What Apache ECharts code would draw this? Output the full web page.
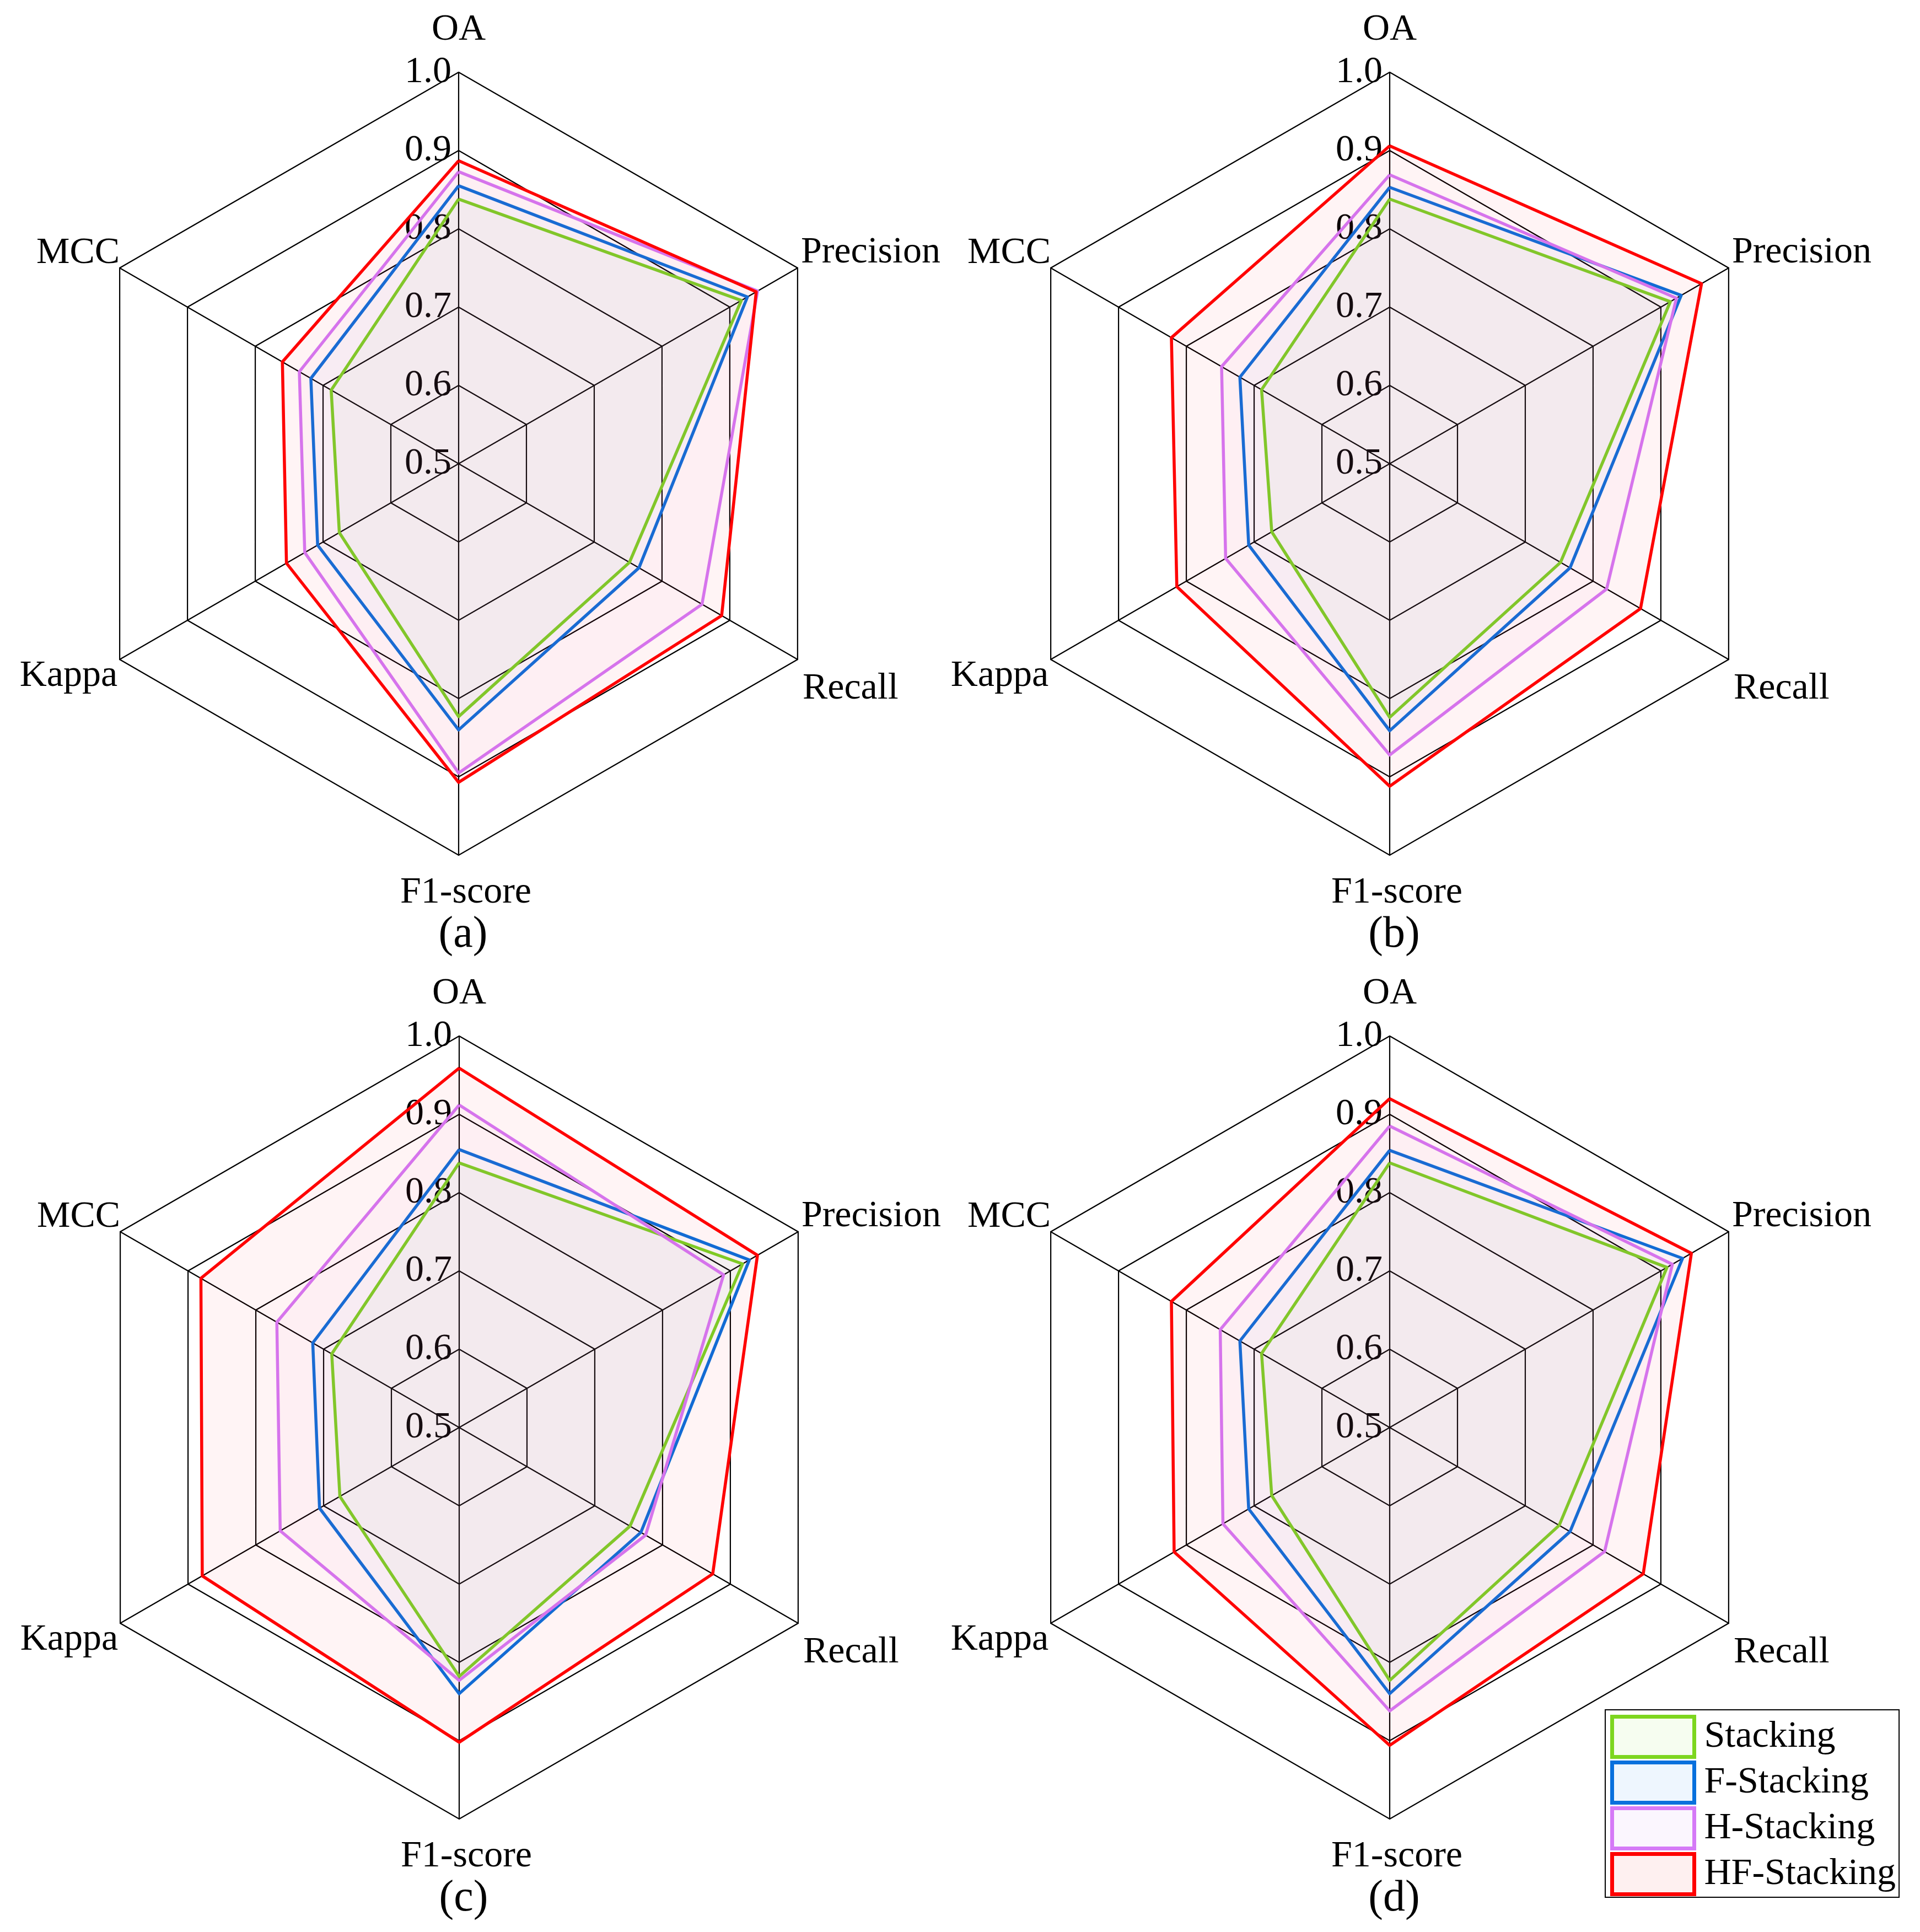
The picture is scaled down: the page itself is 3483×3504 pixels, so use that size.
<!DOCTYPE html>
<html><head><meta charset="utf-8">
<script src="https://cdn.jsdelivr.net/npm/echarts@6/dist/echarts.min.js"></script>
<style>html,body{margin:0;padding:0;background:#fff}#c{width:3483px;height:3504px}</style>
</head><body><div id="c"></div>
<script>
// ---- data (order: OA, Precision, Recall, F1-score, Kappa, MCC; clockwise from top) ----
const indicatorNames = ['OA', 'Precision', 'Recall', 'F1-score', 'Kappa', 'MCC'];
const methods = ['Stacking', 'F-Stacking', 'H-Stacking', 'HF-Stacking'];
const tickLabels = ['0.5', '0.6', '0.7', '0.8', '0.9', '1.0'];
const panelLabels = ['(a)', '(b)', '(c)', '(d)'];

const aStacking   = [0.838, 0.917, 0.752, 0.823, 0.676, 0.688];
const aFStacking  = [0.855, 0.926, 0.766, 0.840, 0.708, 0.718];
const aHStacking  = [0.873, 0.941, 0.859, 0.895, 0.727, 0.735];
const aHFStacking = [0.887, 0.939, 0.888, 0.907, 0.754, 0.760];

const bStacking   = [0.838, 0.914, 0.752, 0.824, 0.674, 0.689];
const bFStacking  = [0.853, 0.930, 0.766, 0.841, 0.708, 0.721];
const bHStacking  = [0.869, 0.923, 0.820, 0.872, 0.742, 0.748];
const bHFStacking = [0.906, 0.960, 0.870, 0.912, 0.814, 0.822];

const cStacking   = [0.838, 0.918, 0.752, 0.818, 0.676, 0.688];
const cFStacking  = [0.855, 0.928, 0.768, 0.840, 0.706, 0.716];
const cHStacking  = [0.912, 0.890, 0.775, 0.823, 0.764, 0.769];
const cHFStacking = [0.959, 0.940, 0.874, 0.902, 0.879, 0.881];

const dStacking   = [0.838, 0.909, 0.750, 0.823, 0.674, 0.689];
const dFStacking  = [0.854, 0.932, 0.766, 0.840, 0.708, 0.721];
const dHStacking  = [0.885, 0.917, 0.817, 0.862, 0.746, 0.750];
const dHFStacking = [0.920, 0.945, 0.874, 0.906, 0.818, 0.822];

const panels = [
  [aStacking, aFStacking, aHStacking, aHFStacking],
  [bStacking, bFStacking, bHStacking, bHFStacking],
  [cStacking, cFStacking, cHStacking, cHFStacking],
  [dStacking, dFStacking, dHStacking, dHFStacking]
];

// ---- styles / layout ----
const lineColors = ['#7DD61F', '#0870DD', '#D57AF7', '#FF0000'];
const fillColors = ['rgba(105,190,120,0.05)', 'rgba(53,134,240,0.04)', 'rgba(215,120,202,0.05)', 'rgba(255,0,32,0.06)'];
const legendFills = ['#F6FDF0', '#EEF6FE', '#FBF6FE', '#FEF0F0'];
const centers = [[832, 841], [2521, 841], [833, 2589], [2521, 2589]];
const R = 710;
const FONT = 'Liberation Serif';
// ECharts radar places indicators counter-clockwise; reorder to get clockwise layout
const order = [0, 5, 4, 3, 2, 1];
const nameKey = {'OA': 'oa', 'Precision': 'prec', 'Recall': 'rec', 'F1-score': 'f1', 'Kappa': 'kap', 'MCC': 'mcc'};
const NAME_SIZE = 68;
const tok = (pad) => ({fontFamily: FONT, fontSize: NAME_SIZE, color: '#000', padding: pad});
const rich = {
  oa: tok([0, 0, 43, 0]),
  prec: tok([0, 0, 56, 6]),
  rec: tok([106, 0, 0, 9]),
  f1: tok([34, 0, 0, 26]),
  kap: tok([60, 4, 0, 0]),
  mcc: tok([0, 0, 54, 0])
};

const chart = echarts.init(document.getElementById('c'), null, {renderer: 'canvas'});
chart.setOption({
  animation: false,
  backgroundColor: '#fff',
  textStyle: {fontFamily: FONT},
  radar: centers.map(c => ({
    center: c, radius: R, startAngle: 90, shape: 'polygon', splitNumber: 5, nameGap: 0,
    indicator: order.map(k => ({name: indicatorNames[k], min: 0.5, max: 1})),
    axisName: {color: '#000', fontFamily: FONT, fontSize: NAME_SIZE,
      formatter: n => '{' + nameKey[n] + '|' + n + '}', rich: rich},
    axisLine: {lineStyle: {color: '#000', width: 2.2}},
    splitLine: {lineStyle: {color: '#000', width: 2.2}},
    splitArea: {show: false},
    axisTick: {show: false},
    axisLabel: {show: false}
  })),
  grid: centers.map(c => ({left: c[0], top: c[1] - R, width: 1, height: R, containLabel: false, outerBoundsMode: 'none'})),
  xAxis: centers.map((c, i) => ({gridIndex: i, type: 'value', show: false})),
  yAxis: centers.map((c, i) => ({
    gridIndex: i, type: 'value', min: 0.5, max: 1, interval: 0.1, z: 0,
    axisLine: {show: false}, axisTick: {show: false}, splitLine: {show: false},
    axisLabel: {margin: 13, fontSize: 68, fontFamily: FONT, color: '#000',
      formatter: v => tickLabels[Math.round((v - 0.5) * 10)]}
  })),
  legend: {
    orient: 'vertical', left: 2912, top: 3101, padding: [9, 6, 2, 9], itemGap: 3,
    itemWidth: 149, itemHeight: 73, borderColor: '#000', borderWidth: 2, selectedMode: false,
    textStyle: {fontFamily: FONT, fontSize: 68, color: '#000', padding: [0, 0, 0, 13]},
    data: methods.map((m, i) => ({name: m, icon: 'rect',
      itemStyle: {color: legendFills[i], borderColor: lineColors[i], borderWidth: 7}}))
  },
  graphic: panelLabels.map((t, i) => ({
    type: 'text', x: centers[i][0] + 8, y: centers[i][1] + 855,
    style: {text: t, font: '80px "Liberation Serif"', fill: '#000', textAlign: 'center', textVerticalAlign: 'middle'}
  })),
  series: panels.map((p, pi) => ({
    type: 'radar', radarIndex: pi, symbol: 'none', z: 2,
    data: methods.map((m, mi) => ({
      name: m,
      value: order.map(k => p[mi][k]),
      lineStyle: {color: lineColors[mi], width: 5.5},
      areaStyle: {color: fillColors[mi]},
      itemStyle: {color: lineColors[mi]}
    }))
  }))
});
</script>
</body></html>
